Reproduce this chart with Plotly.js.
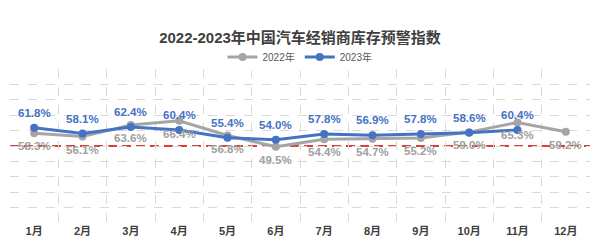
<!DOCTYPE html>
<html>
<head>
<meta charset="utf-8">
<script src="https://cdn.plot.ly/plotly-3.0.1.min.js"></script>
<style>html,body{margin:0;padding:0;background:#fff;}#chart{width:600px;height:249px;}</style>
</head>
<body>
<div id="chart"></div>
<script>
const months = ["1月","2月","3月","4月","5月","6月","7月","8月","9月","10月","11月","12月"];
const values2022 = [58.3, 56.1, 63.6, 66.4, 56.8, 49.5, 54.4, 54.7, 55.2, 59.0, 65.3, 59.2];
const months2023 = ["1月","2月","3月","4月","5月","6月","7月","8月","9月","10月","11月"];
const values2023 = [61.8, 58.1, 62.4, 60.4, 55.4, 54.0, 57.8, 56.9, 57.8, 58.6, 60.4];
const warningLine = 50;

const blue = "#4472C4";
const gray = "#A5A5A5";
const labelFont = "Arial, 'Liberation Sans', sans-serif";
const cjkFont = "Arial, 'Noto Sans CJK SC', sans-serif";

const traces = [
  {x: months, y: values2022, name: "2022年", type: "scatter", mode: "lines+markers",
   line: {color: gray, width: 3}, marker: {color: gray, size: 8}},
  {x: months2023, y: values2023, name: "2023年", type: "scatter", mode: "lines+markers",
   line: {color: blue, width: 3}, marker: {color: blue, size: 8}}
];

const annotations = [];
values2022.forEach((v, i) => annotations.push({
  x: months[i], y: v, xref: "x", yref: "y", text: v.toFixed(1) + "%", showarrow: false,
  yshift: -13, font: {family: labelFont, size: 11.5, color: "#A0A0A0", weight: "bold"}
}));
values2023.forEach((v, i) => annotations.push({
  x: months2023[i], y: v, xref: "x", yref: "y", text: v.toFixed(1) + "%", showarrow: false,
  yshift: 15, font: {family: labelFont, size: 11.5, color: blue, weight: "bold"}
}));

const layout = {
  width: 600, height: 249,
  margin: {l: 10, r: 10, t: 69, b: 26},
  paper_bgcolor: "#fff", plot_bgcolor: "#fff",
  title: {text: "2022-2023年中国汽车经销商库存预警指数", x: 0.5, xanchor: "center",
    y: 0.847, yref: "container", yanchor: "middle", pad: {t: 0, b: 0}, automargin: false,
    font: {family: cjkFont, size: 15, color: "#404040", weight: "bold"}},
  showlegend: true,
  legend: {orientation: "h", x: 0.5, xanchor: "center", y: 1.078, yanchor: "middle",
    font: {family: cjkFont, size: 10, color: "#595959"},
    itemwidth: 30, tracegroupgap: 0},
  xaxis: {type: "category", categoryarray: months, categoryorder: "array",
    tickson: "boundaries", showgrid: true, gridcolor: "#d9d9d9", griddash: "dash", gridwidth: 1,
    ticks: "", showline: false, zeroline: false, fixedrange: true,
    tickfont: {family: cjkFont, size: 11, color: "#404040", weight: "bold"},
    range: [-0.5, 11.5]},
  yaxis: {range: [0, 100], dtick: 10, showgrid: true, gridcolor: "#d9d9d9", griddash: "dash",
    showticklabels: false, ticks: "", zeroline: false, showline: false, fixedrange: true},
  shapes: [
    {type: "line", xref: "paper", x0: 0, x1: 1, yref: "y", y0: warningLine, y1: warningLine,
     line: {color: "#D9403A", width: 2, dash: "9px,5px"}, layer: "below"}
  ],
  annotations: annotations
};

Plotly.newPlot("chart", traces, layout, {displayModeBar: false, staticPlot: true});
</script>
</body>
</html>
